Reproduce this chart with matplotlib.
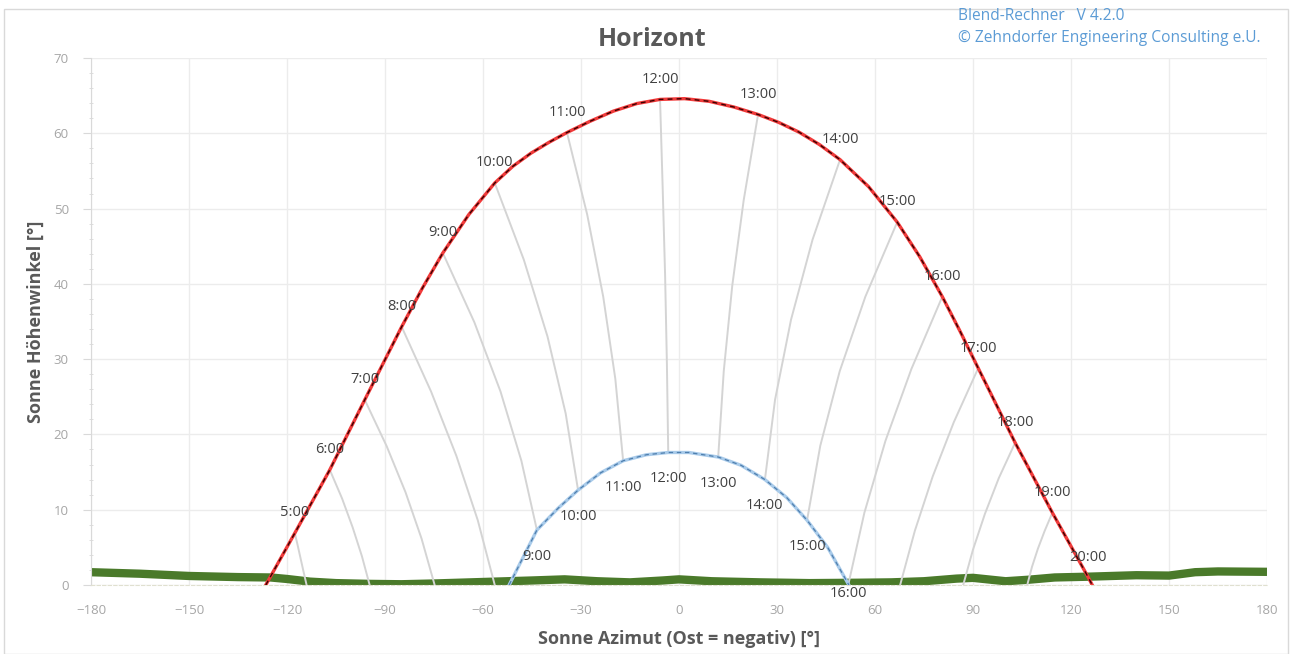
import matplotlib
matplotlib.use("Agg")
import matplotlib.pyplot as plt
from matplotlib.patches import Rectangle

plt.rcParams['font.family'] = ['Open Sans', 'DejaVu Sans']

# summer solstice path (red)
red_az = [-126.5, -117.6, -106.9, -96.2, -84.9, -78.6, -72.3, -64.35, -56.4, -50.9, -45.35, -39.8,
          -34.3, -27.2, -20.05, -12.9, -5.8, 1.7, 9.2, 16.7, 24.2, 30.5, 36.75, 43.0, 49.3, 58.05,
          66.8, 73.7, 80.6, 86.1, 91.6, 102.9, 114.3, 125.3, 126.5]
red_alt = [0.0, 6.9, 15.3, 24.6, 34.3, 39.4, 44.1, 49.2, 53.4, 55.6, 57.35, 58.8,
           60.1, 61.6, 62.95, 63.95, 64.5, 64.6, 64.25, 63.5, 62.5, 61.45, 60.15, 58.5, 56.5, 52.9,
           48.2, 43.6, 38.3, 33.65, 28.8, 18.9, 9.6, 1.0, 0.0]

# winter solstice path (blue)
blue_az = [-52.0, -43.5, -37.0, -30.9, -24.0, -17.1, -10.0, -3.3, 3.0, 12.0, 19.0, 26.3, 33.0, 39.2, 45.5, 52.0]
blue_alt = [0.0, 7.3, 10.2, 12.6, 14.9, 16.5, 17.3, 17.6, 17.6, 17.0, 15.9, 14.0, 11.6, 8.6, 5.0, 0.0]

# hour points on the summer path
red_hours = ["5:00", "6:00", "7:00", "8:00", "9:00", "10:00", "11:00", "12:00",
             "13:00", "14:00", "15:00", "16:00", "17:00", "18:00", "19:00", "20:00"]
red_hour_az = [-117.6, -106.9, -96.2, -84.9, -72.3, -56.4, -34.3, -5.8,
               24.2, 49.3, 66.8, 80.6, 91.6, 102.9, 114.3, 125.3]
red_hour_alt = [6.9, 15.3, 24.6, 34.3, 44.1, 53.4, 60.1, 64.5,
                62.5, 56.5, 48.2, 38.3, 28.8, 18.9, 9.6, 1.0]

# hour points on the winter path
blue_hours = ["9:00", "10:00", "11:00", "12:00", "13:00", "14:00", "15:00", "16:00"]
blue_hour_az = [-43.5, -30.9, -17.1, -3.3, 12.0, 26.3, 39.2, 51.8]
blue_hour_alt = [7.3, 12.6, 16.5, 17.6, 17.0, 14.0, 8.6, 0.0]

# hour lines from the summer path down to the winter path / horizon
hour_line_az = [
    [-117.6, -116.7, -115.8, -114.9, -114.0],
    [-106.9, -103.15, -99.9, -97.05, -94.7],
    [-96.2, -89.5, -83.7, -78.8, -74.8],
    [-84.9, -75.9, -68.15, -61.6, -56.4],
    [-72.3, -62.65, -54.64, -48.25, -43.5],
    [-56.4, -47.5, -40.25, -34.7, -30.9],
    [-34.3, -28.1, -23.2, -19.5, -17.1],
    [-5.8, -5.0, -4.25, -3.7, -3.3],
    [24.2, 19.8, 16.3, 13.7, 12.0],
    [49.3, 40.9, 34.3, 29.4, 26.3],
    [66.8, 57.05, 49.2, 43.25, 39.2],
    [80.6, 71.15, 63.2, 56.75, 51.8],
    [91.6, 84.1, 77.65, 72.2, 67.7],
    [102.9, 97.9, 93.65, 90.0, 87.0],
    [114.3, 111.95, 109.85, 108.05, 106.6],
]
hour_line_alt = [
    [6.9, 5.2, 3.45, 1.7, 0.0],
    [15.3, 11.5, 7.65, 3.8, 0.0],
    [24.6, 18.45, 12.3, 6.15, 0.0],
    [34.3, 25.7, 17.15, 8.6, 0.0],
    [44.1, 34.9, 25.7, 16.5, 7.3],
    [53.4, 43.2, 33.0, 22.8, 12.6],
    [60.1, 49.2, 38.3, 27.4, 16.5],
    [64.5, 52.8, 41.05, 29.3, 17.6],
    [62.5, 51.1, 39.75, 28.4, 17.0],
    [56.5, 45.9, 35.25, 24.6, 14.0],
    [48.2, 38.3, 28.4, 18.5, 8.6],
    [38.3, 28.7, 19.15, 9.6, 0.0],
    [28.8, 21.6, 14.4, 7.2, 0.0],
    [18.9, 14.2, 9.45, 4.7, 0.0],
    [9.6, 7.2, 4.8, 2.4, 0.0],
]

# horizon (green)
horizon_az = [-180, -165, -150, -135, -125, -120, -113, -105, -95, -85, -75, -60, -45, -35, -25,
              -15, -5, 0, 10, 25, 40, 55, 65, 75, 85, 90, 100, 107, 115, 125, 140, 150, 158, 165, 180]
horizon_alt = [1.7, 1.5, 1.2, 1.05, 1.0, 0.8, 0.45, 0.25, 0.15, 0.1, 0.2, 0.4, 0.6, 0.75, 0.5,
               0.35, 0.6, 0.75, 0.5, 0.35, 0.25, 0.3, 0.35, 0.5, 0.85, 0.95, 0.5, 0.7, 1.0, 1.1,
               1.3, 1.25, 1.7, 1.8, 1.75]

W, H = 1291, 654
fig = plt.figure(figsize=(W / 100, H / 100), dpi=100)
fig.patches.append(Rectangle((4 / W, 0), 1284 / W, 1 - 9 / H, transform=fig.transFigure,
                             fill=False, edgecolor="#d9d9d9", linewidth=1))

ax = fig.add_axes([91 / W, 1 - 585 / H, (1267 - 91) / W, (585 - 58) / H])

ax.plot(horizon_az, horizon_alt, color="#4a7a2a", linewidth=6, solid_capstyle="butt", zorder=2)

for xs, ys in zip(hour_line_az, hour_line_alt):
    ax.plot(xs, ys, color="#d4d4d4", linewidth=1.4, zorder=3)

ax.plot(red_az, red_alt, color="#f03a3a", linewidth=2.4, zorder=4)
ax.plot(red_az, red_alt, color="#3a0000", linewidth=1.0, dashes=(3.5, 3), zorder=5)
ax.plot(blue_az, blue_alt, color="#a9cbea", linewidth=2.4, zorder=4)
ax.plot(blue_az, blue_alt, color="#4f7fae", linewidth=0.9, dashes=(3.5, 3), zorder=5)

for lab, x, y in zip(red_hours, red_hour_az, red_hour_alt):
    ax.annotate(lab, (x, y), xytext=(0, 14.5), textcoords="offset points", ha="center", va="center",
                fontsize=10.5, color="#404040", zorder=6)
for lab, x, y in zip(blue_hours, blue_hour_az, blue_hour_alt):
    off = -6 if y < 1 else -19
    ax.annotate(lab, (x, y), xytext=(0, off), textcoords="offset points", ha="center", va="center",
                fontsize=10.5, color="#404040", zorder=6, annotation_clip=False)

ax.set_xlim(-180, 180)
ax.set_ylim(0, 70)
ax.set_xticks(range(-180, 181, 30))
ax.set_yticks(range(0, 71, 10))
ax.set_yticks(range(0, 71, 2), minor=True)
ax.grid(True, color="#ececec", linewidth=1, zorder=0)
ax.set_axisbelow(True)
for s in ["top", "right"]:
    ax.spines[s].set_visible(False)
ax.spines["left"].set_color("#d9d9d9")
ax.spines["bottom"].set_color("#e0e0d0")
ax.spines["bottom"].set_linestyle((0, (3, 2)))
ax.tick_params(axis="both", which="major", colors="#d9d9d9", labelcolor="#a6a6a6", labelsize=9.5, length=6)
ax.tick_params(axis="x", which="major", length=0, pad=14)
ax.tick_params(axis="y", which="minor", colors="#d9d9d9", length=3, direction="inout")
ax.tick_params(axis="y", which="major", pad=10)

ax.set_xlabel("Sonne Azimut (Ost = negativ) [°]", fontsize=13, fontweight="bold", color="#595959", labelpad=9)
ax.set_ylabel("Sonne Höhenwinkel [°]", fontsize=13, fontweight="bold", color="#595959", labelpad=6)
fig.text(652 / W, 1 - 40 / H, "Horizont", ha="center", va="center", fontsize=18, fontweight="bold", color="#595959")
fig.text(958 / W, 1 - 16 / H, "Blend-Rechner   V 4.2.0", ha="left", va="center", fontsize=11.2, color="#5b9bd5")
fig.text(958 / W, 1 - 38 / H, "© Zehndorfer Engineering Consulting e.U.", ha="left", va="center", fontsize=11.2, color="#5b9bd5")

fig.savefig("out.png", dpi=100, facecolor="white")
